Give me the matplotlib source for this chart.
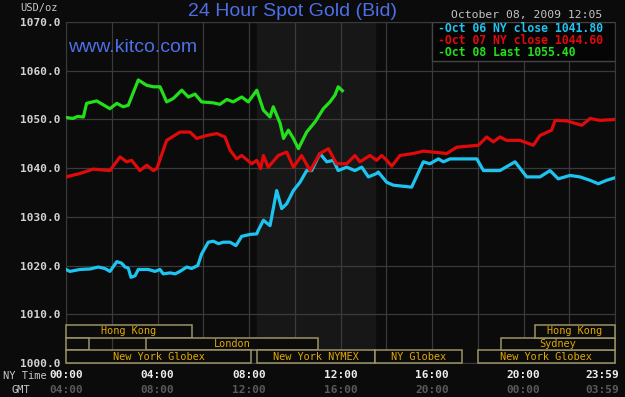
import matplotlib
matplotlib.use("Agg")
import matplotlib.pyplot as plt
from matplotlib.patches import Rectangle
import matplotlib.transforms as mtransforms

# hours since 00:00 NY time, and bid price in USD/oz
oct06_hours = [0.00, 0.17, 0.61, 1.05, 1.41, 1.70, 1.92, 2.22, 2.43, 2.58, 2.72, 2.84,
               3.02, 3.16, 3.60, 3.89, 4.11, 4.25, 4.55, 4.77, 4.98, 5.28, 5.49, 5.76,
               5.93, 6.22, 6.44, 6.66, 6.88, 7.17, 7.43, 7.68, 8.05, 8.34, 8.40, 8.63,
               8.92, 9.21, 9.43, 9.65, 9.94, 10.23, 10.52, 10.74, 11.10, 11.40, 11.69,
               11.90, 12.27, 12.63, 12.93, 13.22, 13.58, 13.65, 14.02, 14.31, 15.11,
               15.62, 15.91, 16.28, 16.50, 16.79, 17.96, 18.25, 18.97, 19.63, 20.14,
               20.72, 21.16, 21.52, 22.03, 22.47, 22.91, 23.27, 23.63, 23.98]
oct06_price = [1019.2, 1018.8, 1019.2, 1019.3, 1019.7, 1019.4, 1018.8, 1020.8, 1020.5,
               1019.7, 1019.5, 1017.6, 1017.9, 1019.2, 1019.2, 1018.8, 1019.2, 1018.3,
               1018.5, 1018.3, 1018.8, 1019.7, 1019.4, 1020.0, 1022.4, 1024.8, 1025.0,
               1024.5, 1024.8, 1024.8, 1024.1, 1026.0, 1026.4, 1026.5, 1027.2, 1029.3,
               1028.2, 1035.4, 1031.7, 1032.7, 1035.4, 1037.1, 1039.5, 1039.5, 1043.0,
               1041.3, 1041.6, 1039.5, 1040.2, 1039.5, 1040.2, 1038.2, 1038.9, 1039.2,
               1037.1, 1036.5, 1036.1, 1041.3, 1040.9, 1041.9, 1041.3, 1041.9, 1041.9,
               1039.5, 1039.5, 1041.3, 1038.2, 1038.2, 1039.5, 1037.8, 1038.5, 1038.2,
               1037.5, 1036.8, 1037.5, 1038.0]

oct07_hours = [0.00, 0.61, 1.19, 1.92, 2.36, 2.65, 2.87, 3.23, 3.53, 3.82, 3.97, 4.40,
               4.98, 5.42, 5.71, 6.15, 6.59, 6.95, 7.17, 7.46, 7.68, 8.12, 8.34, 8.51,
               8.63, 8.84, 9.28, 9.65, 9.94, 10.30, 10.67, 11.10, 11.47, 11.83, 12.27,
               12.63, 12.85, 13.29, 13.58, 13.80, 14.02, 14.24, 14.60, 15.18, 15.62,
               16.64, 17.08, 18.03, 18.39, 18.68, 18.97, 19.26, 19.85, 20.43, 20.72,
               21.23, 21.38, 21.89, 22.55, 22.91, 23.34, 23.98]
oct07_price = [1038.2, 1038.9, 1039.8, 1039.5, 1042.3, 1041.3, 1041.6, 1039.5, 1040.6,
               1039.5, 1039.9, 1045.7, 1047.4, 1047.4, 1046.1, 1046.7, 1047.1, 1046.4,
               1043.7, 1041.9, 1042.6, 1040.9, 1041.6, 1039.9, 1042.6, 1040.2, 1042.6,
               1043.3, 1040.2, 1042.6, 1039.5, 1043.0, 1044.0, 1040.9, 1040.9, 1042.6,
               1041.3, 1042.6, 1041.6, 1042.6, 1041.6, 1040.4, 1042.6, 1043.0, 1043.5,
               1043.0, 1044.3, 1044.7, 1046.4, 1045.4, 1046.4, 1045.7, 1045.7, 1044.7,
               1046.7, 1047.8, 1049.8, 1049.7, 1048.8, 1050.2, 1049.8, 1050.0]

oct08_hours = [0.00, 0.30, 0.50, 0.76, 0.90, 1.34, 1.92, 2.22, 2.50, 2.72, 3.16, 3.53,
               3.82, 4.11, 4.40, 4.69, 5.06, 5.35, 5.64, 5.93, 6.44, 6.73, 7.03, 7.31,
               7.68, 7.97, 8.34, 8.63, 8.92, 9.06, 9.36, 9.51, 9.72, 9.94, 10.16, 10.52,
               10.89, 11.25, 11.54, 11.76, 11.90, 12.08]
oct08_price = [1050.4, 1050.2, 1050.6, 1050.5, 1053.3, 1053.8, 1052.2, 1053.3, 1052.6,
               1052.9, 1058.1, 1057.0, 1056.7, 1056.7, 1053.6, 1054.3, 1056.0, 1054.6,
               1055.2, 1053.6, 1053.4, 1053.1, 1054.1, 1053.6, 1054.6, 1053.6, 1056.0,
               1051.9, 1050.5, 1052.6, 1049.2, 1046.1, 1047.8, 1046.1, 1044.0, 1047.4,
               1049.5, 1052.2, 1053.6, 1055.0, 1056.7, 1055.9]

legend_labels = ["-Oct 06 NY close 1041.80", "-Oct 07 NY close 1044.60", "-Oct 08 Last 1055.40"]

# trading sessions: name, start hour, end hour, row (0 = top)
session_names = ["Hong Kong", "", "London", "New York Globex", "New York NYMEX",
                 "NY Globex", "New York Globex", "Sydney", "Hong Kong"]
session_start = [0.0, 0.0, 3.5, 0.0, 8.33, 13.5, 18.0, 19.0, 20.5]
session_end = [5.5, 1.0, 11.0, 8.1, 13.5, 17.3, 24.0, 24.0, 24.0]
session_row = [0, 1, 1, 2, 2, 2, 2, 1, 0]

time_ticks = [0, 4, 8, 12, 16, 20, 23.98]
ny_labels = ["00:00", "04:00", "08:00", "12:00", "16:00", "20:00", "23:59"]
gmt_labels = ["04:00", "08:00", "12:00", "16:00", "20:00", "00:00", "03:59"]

nymex_open, nymex_close = 8.33, 13.5

bg = "#0b0b0b"
grid = "#3a3a3a"
blue = "#4d6fe6"
mono = "DejaVu Sans Mono"

fig = plt.figure(figsize=(6.25, 3.97), dpi=100, facecolor=bg)
ax = fig.add_axes([66 / 625, 1 - 363 / 397, 549 / 625, 341 / 397])
ax.set_facecolor(bg)
ax.set_xlim(0, 24)
ax.set_ylim(1000, 1070)

ax.axvspan(nymex_open, nymex_close, color="#171717", zorder=0)

ax.set_xticks(range(0, 25, 2))
ax.set_yticks(range(1000, 1071, 10))
ax.grid(True, color=grid, lw=0.9, zorder=1)
ax.tick_params(axis="x", length=0, labelbottom=False)
ax.tick_params(axis="y", length=0, pad=4, labelcolor="#d2d2d2", labelsize=8)
ax.set_yticklabels([f"{v:.1f}" for v in range(1000, 1071, 10)],
                   fontfamily=mono, fontweight="bold")
for s in ax.spines.values():
    s.set_color(grid)

ax.plot(oct06_hours, oct06_price, color="#1ec4f0", lw=2.3, zorder=3)
ax.plot(oct07_hours, oct07_price, color="#e00a0a", lw=2.3, zorder=3)
ax.plot(oct08_hours, oct08_price, color="#22e01a", lw=2.3, zorder=4)

# session boxes
row_h = 2.6
for name, a, b, r in zip(session_names, session_start, session_end, session_row):
    y0 = 1000 + (2 - r) * row_h
    ax.add_patch(Rectangle((a, y0), b - a, row_h, facecolor=bg, edgecolor="#9c9468",
                           lw=1.1, zorder=5, clip_on=False))
    if name:
        ax.text((a + b) / 2, y0 + row_h / 2, name, color="#e0a800", fontsize=7.4,
                fontfamily=mono, ha="center", va="center", zorder=6)

# legend box
ax.add_patch(Rectangle((0.667, 0.886), 0.333, 0.114, transform=ax.transAxes,
                       facecolor="#050505", edgecolor="#444444", lw=1, zorder=7))
for i, (lab, c) in enumerate(zip(legend_labels, ["#1ec4f0", "#e00a0a", "#22e01a"])):
    ax.text(0.677, 0.980 - i * 0.035, lab, color=c, fontsize=8.3, fontfamily=mono,
            fontweight="bold", transform=ax.transAxes, va="center", zorder=8)

# time labels under the axis
trans = mtransforms.blended_transform_factory(ax.transData, fig.transFigure)
for t, a, b in zip(time_ticks, ny_labels, gmt_labels):
    ha = "right" if t > 23 else "center"
    x = 24.2 if t > 23 else t
    ax.text(x, 1 - 375 / 397, a, color="#eeeeee", fontsize=8, fontfamily=mono,
            fontweight="bold", ha=ha, va="center", transform=trans)
    ax.text(x, 1 - 390 / 397, b, color="#5a5a5a", fontsize=8, fontfamily=mono,
            fontweight="bold", ha=ha, va="center", transform=trans)
fig.text(3 / 625, 1 - 376 / 397, "NY Time", color="#c8c8c8", fontsize=7.5,
         fontfamily=mono, va="center")
fig.text(11 / 625, 1 - 390 / 397, "GMT", color="#c8c8c8", fontsize=7.5,
         fontfamily=mono, va="center")

fig.text(20 / 625, 1 - 8 / 397, "USD/oz", color="#c8c8c8", fontsize=7.5,
         fontfamily=mono, va="center")
fig.text(292 / 625, 1 - 11 / 397, "24 Hour Spot Gold (Bid)", color=blue, fontsize=14,
         fontfamily="Liberation Sans", ha="center", va="center")
fig.text(68 / 625, 1 - 48 / 397, "www.kitco.com", color=blue, fontsize=14,
         fontfamily="Liberation Sans", va="center")
fig.text(451 / 625, 1 - 15 / 397, "October 08, 2009 12:05", color="#c4c4c4",
         fontsize=8.2, fontfamily=mono, va="center")

fig.savefig("out.png", dpi=100, facecolor=bg)
